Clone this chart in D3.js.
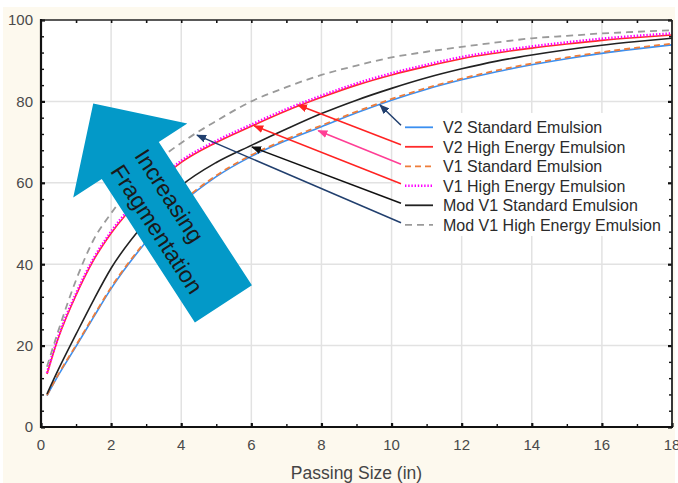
<!DOCTYPE html>
<html><head><meta charset="utf-8">
<script src="https://cdn.jsdelivr.net/npm/d3@7"></script>
<style>
body{margin:0;background:#fff}
svg{display:block}
text{font-family:"Liberation Sans",Arial,Helvetica,sans-serif}
</style>
</head><body>
<svg id="chart" width="678" height="483"></svg>
<script>
// ---------------- data ----------------
const sizes          = [0.17, 0.5, 1, 1.5, 2, 3, 4, 5, 6, 7, 8, 9, 10, 11, 12, 13, 14, 15, 16, 17, 18];
const v2Standard     = [7.7, 12.8, 19.8, 27.0, 34.0, 45.5, 54.8, 61.5, 66.5, 70.4, 73.8, 77.2, 80.3, 83.0, 85.3, 87.3, 89.0, 90.5, 91.8, 92.9, 93.9];
const v2HighEnergy   = [13.0, 22.0, 32.4, 41.0, 47.6, 57.5, 65.0, 69.9, 73.9, 77.7, 81.0, 84.0, 86.5, 88.6, 90.5, 91.9, 93.1, 94.1, 95.0, 95.7, 96.3];
const v1Standard     = [7.8, 13.0, 20.1, 27.3, 34.3, 45.8, 55.1, 61.8, 66.8, 70.7, 74.1, 77.5, 80.6, 83.3, 85.6, 87.6, 89.3, 90.8, 92.1, 93.2, 94.2];
const v1HighEnergy   = [13.3, 22.4, 32.8, 41.4, 48.0, 57.9, 65.4, 70.3, 74.3, 78.1, 81.4, 84.4, 86.9, 89.0, 90.9, 92.3, 93.5, 94.5, 95.4, 96.1, 96.7];
const modV1Standard  = [8.1, 14.2, 22.8, 31.2, 39.0, 50.5, 59.3, 65.0, 69.2, 73.2, 77.0, 80.3, 83.2, 85.8, 88.0, 89.9, 91.4, 92.7, 93.8, 94.7, 95.5];
const modV1HighEnergy= [14.8, 23.8, 36.1, 46.0, 52.5, 63.0, 69.8, 75.2, 80.0, 83.5, 86.5, 88.8, 90.8, 92.2, 93.4, 94.5, 95.5, 96.1, 96.7, 97.1, 97.5];

const legendLabels = ["V2 Standard Emulsion","V2 High Energy Emulsion","V1 Standard Emulsion",
                      "V1 High Energy Emulsion","Mod V1 Standard Emulsion","Mod V1 High Energy Emulsion"];
const xTickLabels = [0,2,4,6,8,10,12,14,16,18];
const yTickLabels = [0,20,40,60,80,100];
const xTitle = "Passing Size (in)";
const annotationText = ["Increasing","Fragmentation"];
// callout arrows: tip positions (data units), one per legend row
const calloutTipX = [9.67, 7.33, 7.91, 6.08, 6.02, 4.45];
const calloutTipY = [79.1, 79.1, 72.8, 74.0, 68.8, 71.7];
// big arrow tip (data units)
const bigArrowTip = [1.49, 79.5];

// ---------------- styles ----------------
const seriesStyle = [
  {values:v2Standard,     color:"#3b8ff0", width:1.6, dash:null},
  {values:v2HighEnergy,   color:"#ff2b2b", width:1.6, dash:null},
  {values:v1Standard,     color:"#ee7d3a", width:1.8, dash:"6,4"},
  {values:v1HighEnergy,   color:"#ff00ff", width:2.6, dash:"1.4,1.8"},
  {values:modV1Standard,  color:"#222222", width:1.6, dash:null},
  {values:modV1HighEnergy,color:"#9a9a9a", width:1.8, dash:"7,5"}
];
const calloutColors = ["#213f6e","#ff2222","#ff3f95","#ff2222","#111111","#213f6e"];

const svg = d3.select("#chart");
const W = 678, H = 483;
const L = 41, R = 672, T = 20, B = 427;

// backgrounds
svg.append("rect").attr("x",0).attr("y",0).attr("width",W).attr("height",H).attr("fill","#ffffff");
svg.append("rect").attr("x",3).attr("y",7).attr("width",672).attr("height",H-7).attr("fill","#fdf9ee");
svg.append("rect").attr("x",L).attr("y",T).attr("width",R-L).attr("height",B-T).attr("fill","#ffffff");

const x = d3.scaleLinear().domain([0,18]).range([L,R]);
const y = d3.scaleLinear().domain([0,100]).range([B,T]);

// gridlines
const grid = svg.append("g");
grid.selectAll(".gx").data(xTickLabels.filter(v=>v>0&&v<18)).enter().append("line")
  .attr("x1",d=>x(d)).attr("x2",d=>x(d)).attr("y1",T).attr("y2",B)
  .attr("stroke","#e2e2e2").attr("stroke-width",1.5);
grid.selectAll(".gy").data(yTickLabels.filter(v=>v>0&&v<100)).enter().append("line")
  .attr("y1",d=>y(d)).attr("y2",d=>y(d)).attr("x1",L).attr("x2",R)
  .attr("stroke","#e2e2e2").attr("stroke-width",1.5);

// clip
svg.append("clipPath").attr("id","plotclip").append("rect")
  .attr("x",L).attr("y",T).attr("width",R-L).attr("height",B-T);

// curves
const line = d3.line().x((d,i)=>x(sizes[i])).y(d=>y(d)).curve(d3.curveMonotoneX);
const curves = svg.append("g").attr("clip-path","url(#plotclip)");
seriesStyle.forEach(s=>{
  curves.append("path").attr("d",line(s.values)).attr("fill","none")
    .attr("stroke",s.color).attr("stroke-width",s.width)
    .attr("stroke-dasharray",s.dash);
});

// legend box
const legX = 396, legY = 113, rowH = 19.5, row0 = 127.3;
svg.append("rect").attr("x",legX).attr("y",legY).attr("width",272).attr("height",123).attr("fill","#ffffff");
const leg = svg.append("g");
legendLabels.forEach((lab,i)=>{
  const yy = row0 + i*rowH;
  const s = seriesStyle[i];
  leg.append("line").attr("x1",405).attr("x2",433).attr("y1",yy).attr("y2",yy)
    .attr("stroke",s.color).attr("stroke-width",Math.max(s.width,1.8)).attr("stroke-dasharray",s.dash);
  leg.append("text").attr("x",443).attr("y",yy).attr("dy","0.36em")
    .attr("font-size",16).attr("fill","#2b2b2b").text(lab);
});

// callout arrows
const defs = svg.append("defs");
calloutColors.forEach((c,i)=>{
  defs.append("marker").attr("id","ah"+i).attr("viewBox","0 0 10 8")
    .attr("refX",9).attr("refY",4).attr("markerWidth",10).attr("markerHeight",8)
    .attr("markerUnits","userSpaceOnUse").attr("orient","auto")
    .append("path").attr("d","M0,0 L10,4 L0,8 Z").attr("fill",c);
});
calloutTipX.forEach((tx,i)=>{
  const yy = row0 + i*rowH - 2;
  svg.append("line").attr("x1",401).attr("y1",yy).attr("x2",x(tx)).attr("y2",y(calloutTipY[i]))
    .attr("stroke",calloutColors[i]).attr("stroke-width",1.5)
    .attr("marker-end","url(#ah"+i+")");
});

// frame and axes
const ax = svg.append("g");
function ticks(axisFn, scale, vals, size, w, transform){
  const g = ax.append("g").attr("transform",transform)
    .call(axisFn(scale).tickValues(vals).tickSize(size).tickFormat(""));
  g.select(".domain").remove();
  g.selectAll(".tick line").attr("stroke","#111").attr("stroke-width",w);
}
const xMinor = d3.range(1,18,2), yMinor = d3.range(4,100,4).filter(v=>v%20!==0);
ticks(d3.axisBottom, x, xTickLabels, -4, 2.2, `translate(0,${B})`);
ticks(d3.axisBottom, x, xMinor, -3, 1.4, `translate(0,${B})`);
ticks(d3.axisTop, x, d3.range(1,18), -3, 1.6, `translate(0,${T})`);
ticks(d3.axisLeft, y, yTickLabels, -4, 2.2, `translate(${L},0)`);
ticks(d3.axisLeft, y, yMinor, -3, 1.4, `translate(${L},0)`);
ticks(d3.axisRight, y, yTickLabels, -4, 2.2, `translate(${R},0)`);
ticks(d3.axisRight, y, yMinor, -3, 1.4, `translate(${R},0)`);

ax.append("line").attr("x1",L).attr("x2",R).attr("y1",T).attr("y2",T).attr("stroke","#222").attr("stroke-width",1.6);
ax.append("line").attr("x1",R).attr("x2",R).attr("y1",T).attr("y2",B).attr("stroke","#222").attr("stroke-width",1.8);
ax.append("line").attr("x1",L).attr("x2",L).attr("y1",T-1).attr("y2",B+1).attr("stroke","#111").attr("stroke-width",2.2);
ax.append("line").attr("x1",L-1).attr("x2",R+1).attr("y1",B).attr("y2",B).attr("stroke","#111").attr("stroke-width",2.2);

// tick labels
svg.append("g").selectAll("text").data(xTickLabels).enter().append("text")
  .attr("x",d=>x(d)).attr("y",B+18).attr("dy","0.36em").attr("text-anchor","middle")
  .attr("font-size",15).attr("fill","#4a4a4a").text(d=>d);
svg.append("g").selectAll("text").data(yTickLabels).enter().append("text")
  .attr("x",L-8).attr("y",d=>y(d)).attr("dy","0.36em").attr("text-anchor","end")
  .attr("font-size",15).attr("fill","#4a4a4a").text(d=>d);
svg.append("text").attr("x",(L+R)/2).attr("y",479).attr("text-anchor","middle")
  .attr("font-size",17.5).attr("fill","#444").text(xTitle);

// big annotation arrow
const ba = svg.append("g")
  .attr("transform",`translate(${x(bigArrowTip[0])},${y(bigArrowTip[1])}) rotate(57)`);
ba.append("path").attr("d","M0,0 L68,-68 L68,-34 L239,-34 L239,34 L68,34 L68,68 Z")
  .attr("fill","#0399c8");
ba.append("text").attr("x",66).attr("y",-13.5).attr("dy","0.35em").attr("font-size",23)
  .attr("fill","#1a1a1a").text(annotationText[0]);
ba.append("text").attr("x",66).attr("y",15).attr("dy","0.35em").attr("font-size",23)
  .attr("fill","#1a1a1a").text(annotationText[1]);
</script>
</body></html>
